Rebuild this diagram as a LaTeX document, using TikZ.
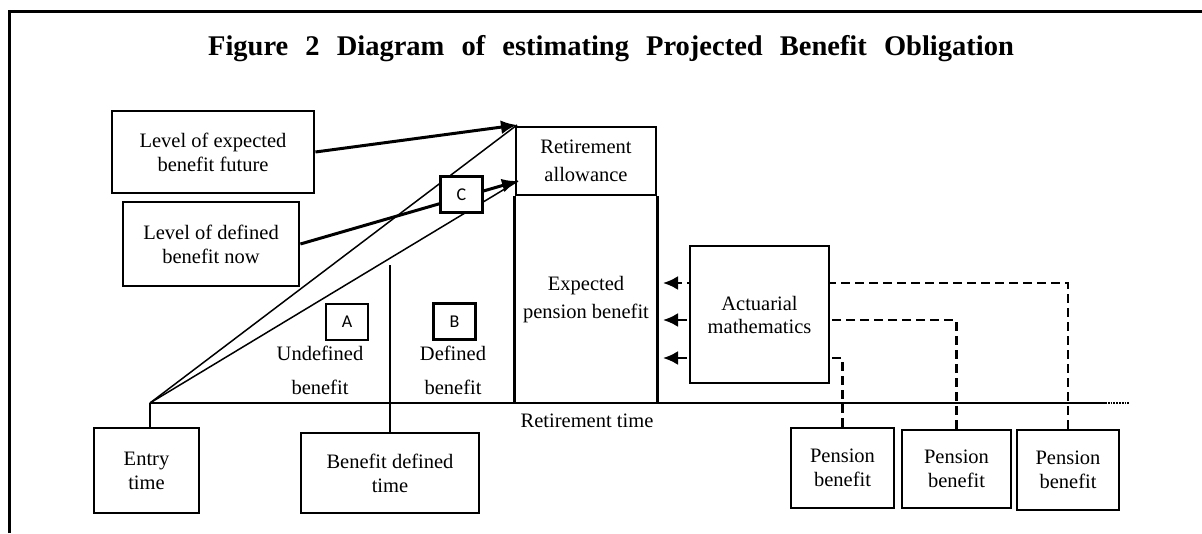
\documentclass[tikz,border=0pt]{standalone}
\usepackage{fontspec}
\setmainfont{Liberation Serif}
\newfontfamily\lettfont{Carlito}
\usetikzlibrary{arrows.meta,positioning}

\begin{document}
\begin{tikzpicture}[x=1pt, y=-1pt, >=Latex,
  font=\fontsize{20.5}{24}\selectfont,
  box/.style={draw, line width=2.8pt, inner sep=0pt, align=center, fill=white},
  tag/.style={draw, line width=2.5pt, inner sep=0pt, minimum width=42pt, minimum height=36pt, fill=white, font=\lettfont\fontsize{18}{20}\selectfont},
  ray/.style={line width=1.5pt},
  heavy/.style={line width=3pt, -{Latex[length=16pt,width=14pt]}},
  dashar/.style={dash pattern=on 9pt off 5pt, line width=2.5pt, -{Latex[length=15pt,width=14pt]}}]
\useasboundingbox (0,0) rectangle (1202,533);
% frame and title
\draw[line width=3pt] (9,533) -- (9,11) -- (1202,11);
\node[anchor=base, font=\bfseries\fontsize{28.5}{30}\selectfont] (title) at (611,55) {\spaceskip=0.6em\relax Figure 2 Diagram of estimating Projected Benefit Obligation};
% time axis
\coordinate (o) at (150,403);
\coordinate (end) at (1105,403);
\draw[line width=2.5pt] (o) -- (end);
\draw[line width=1.8pt, densely dotted] (end) -- ++(25,0);
\node[anchor=base] (rtime) at (587,427) {Retirement time};
\node[box, minimum width=105pt, minimum height=85pt] (ent) at (146.5,470.5) {Entry\\time};
\node[box, minimum width=178pt, minimum height=80pt] (bdt) at (390,473) {Benefit defined\\time};
\draw[line width=2.5pt] (o) -- (o |- ent.north);
\coordinate (bd) at (390,265);
\draw[line width=2.5pt] (bd) -- (bdt.north);
% retirement column
\node[box, minimum width=140pt, minimum height=68pt, font=\fontsize{20.5}{28}\selectfont] (ret) at (586,161) {Retirement\\allowance};
\draw[line width=2.8pt] (ret.south west) -- (ret.south west |- o);
\draw[line width=2.8pt] (ret.south east) -- (ret.south east |- o);
\node[align=center, font=\fontsize{20.5}{28}\selectfont] (exp) at (586,300) {Expected\\pension benefit};
% benefit levels
\coordinate (rt1) at (517,125);
\coordinate (rt2) at (518,181);
\draw[ray] (o) -- (rt1);
\draw[ray] (o) -- (rt2);
\node[box, minimum width=202pt, minimum height=82pt] (fut) at (213,152) {Level of expected\\benefit future};
\node[box, minimum width=176pt, minimum height=84pt] (now) at (211,244) {Level of defined\\benefit now};
\draw[heavy] (fut.east) -- (rt1);
\draw[heavy] (now.east) -- (rt2);
\node[tag] (c) at (461.5,194.5) {C};
\node[tag] (a) at (347,322) {A};
\node[tag] (b) at (454.5,321.5) {B};
\node[align=center, font=\fontsize{20.5}{34}\selectfont] (undef) at (320,370) {Undefined\\benefit};
\node[align=center, font=\fontsize{20.5}{34}\selectfont] (def) at (453,370) {Defined\\benefit};
% actuarial part
\node[box, minimum width=103pt, minimum height=80pt] (pb1) at (842.5,468) {Pension\\benefit};
\node[box, minimum width=109pt, minimum height=78pt] (pb2) at (956.5,469) {Pension\\benefit};
\node[box, minimum width=102pt, minimum height=80pt] (pb3) at (1068,470) {Pension\\benefit};
\coordinate (t1) at (663,283);
\coordinate (t2) at (663,320);
\coordinate (t3) at (663,358);
\draw[dashar] (pb3.north) |- (t1);
\draw[dashar] (pb2.north) |- (t2);
\draw[dashar] (pb1.north) |- (t3);
\node[box, minimum width=139pt, minimum height=137pt, font=\fontsize{20.5}{23}\selectfont] (act) at (759.5,314.5) {Actuarial\\mathematics};
\end{tikzpicture}
\end{document}
